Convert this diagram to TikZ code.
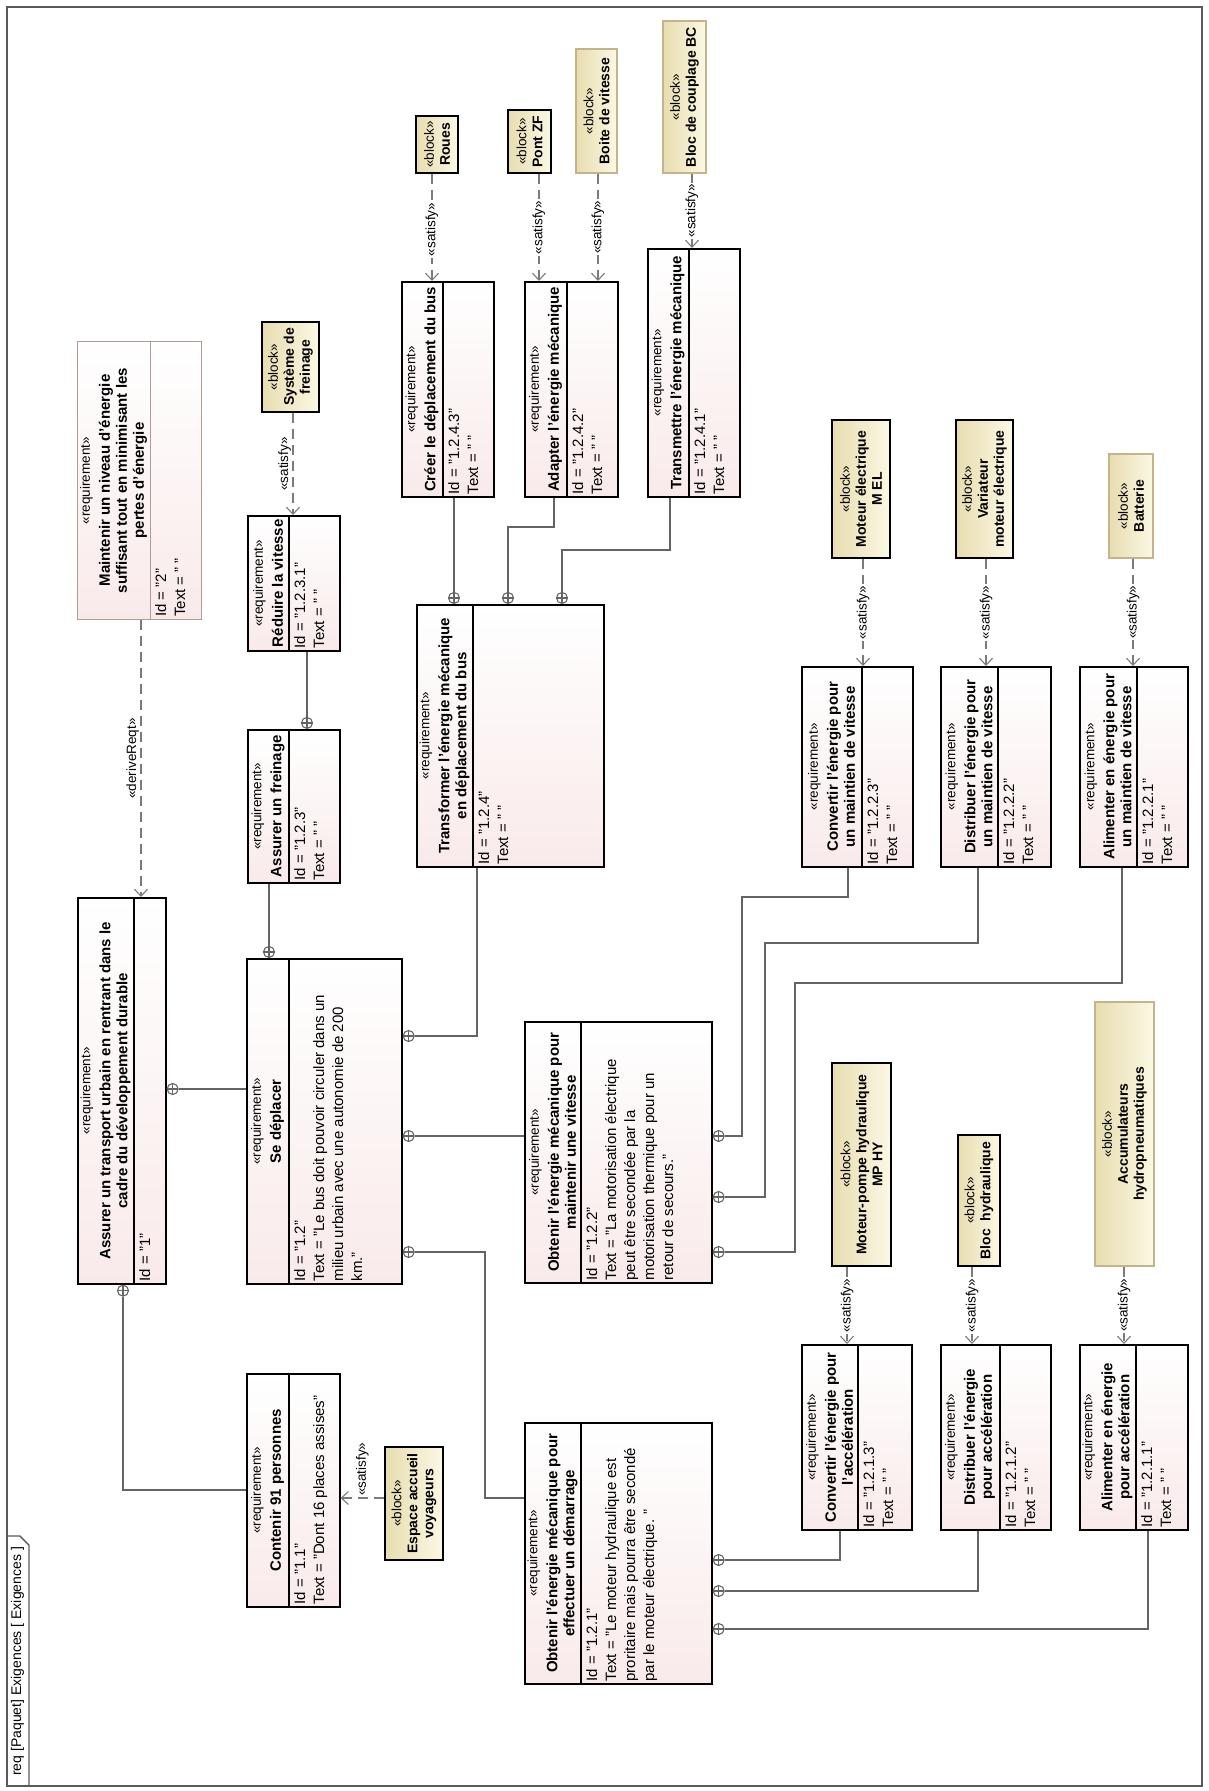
\documentclass[tikz,border=0pt]{standalone}
\usepackage{fontspec}
\setmainfont{Liberation Sans}
\usepackage{xcolor}
\usetikzlibrary{arrows.meta, calc}

\definecolor{reqpink}{RGB}{249,234,234}
\definecolor{blockcream}{RGB}{251,248,228}
\definecolor{blocktan}{RGB}{232,221,176}
\definecolor{tanborder}{RGB}{196,180,140}
\definecolor{greyborder}{RGB}{176,156,146}
\definecolor{linegrey}{RGB}{100,100,100}
\definecolor{framegrey}{RGB}{90,90,90}

\newcommand{\stereofont}{\fontsize{13.5}{15}\selectfont\mdseries}

% requirement box: [extra style]{name}{x}{y}{width}{height}{header width}{title}{body}
\newcommand{\reqnode}[9][]{%
    \node[reqbox, #1, minimum width=#5pt, minimum height=#6pt, anchor=north west] (#2) at (#3,#4) {};
    \draw[reqline, #1] ([xshift=#7pt]#2.north west) -- ([xshift=#7pt]#2.south west);
    \node[reqhead] (#2-h) at ($(#2.west)+(#7/2,0)$) {{\stereofont «requirement»}\\[3pt]#8};
    \node[reqbody] (#2-b) at ([xshift=#7pt]#2.south west) {#9};
}

\begin{document}
\begin{tikzpicture}[
        x=1pt, y=-1pt,
        font=\fontsize{15}{19}\selectfont,
        reqbox/.style={draw=black, line width=1.6pt, top color=white, bottom color=reqpink},
        reqline/.style={draw=black, line width=1.6pt},
        reqhead/.style={rotate=90, align=center, inner sep=1pt, font=\fontsize{15}{17}\selectfont\bfseries},
        reqbody/.style={rotate=90, anchor=north west, align=left, inner xsep=3pt, inner ysep=5pt, font=\fontsize{15}{19}\selectfont},
        blockbox/.style={draw=black, line width=1.6pt, rotate=90, left color=blocktan, right color=blockcream, align=center, inner sep=2pt, font=\fontsize{14}{16}\selectfont\bfseries},
        tanblock/.style={blockbox, draw=tanborder, line width=1.2pt},
        contain/.style={draw=linegrey, line width=1.3pt},
        xhair/.style={circle, draw=linegrey, line width=1.1pt, fill=white, minimum size=11pt, inner sep=0pt,
            path picture={\draw[linegrey, line width=1.1pt] (path picture bounding box.north) -- (path picture bounding box.south) (path picture bounding box.west) -- (path picture bounding box.east);}},
        deparrow/.style={draw=linegrey!85, line width=1.1pt, dash pattern=on 10pt off 6pt, -{Straight Barb[length=7pt, width=13pt]}},
        lbl/.style={rotate=90, inner sep=1.5pt, fill=white, font=\fontsize{13.5}{15}\selectfont},
    ]
    \useasboundingbox (0,0) rectangle (1208,1791);

    % Frame
    \node[draw=framegrey, line width=1.6pt, inner sep=0pt, minimum width=1195pt, minimum height=1779pt, anchor=north west] (frame) at (6,6) {};
    \draw[framegrey, line width=1.4pt] (frame.south west |- 0,1536) -- (20,1536) -- (29,1545) -- (frame.south west -| 29,0);
    \node[rotate=90, anchor=west, inner sep=0pt, font=\fontsize{14}{16}\selectfont] (title) at (17.5,1776) {req [Paquet] Exigences [ Exigences ]};

    % Requirements
    \reqnode[draw=greyborder, line width=1pt]{r2}{77}{341}{124}{278}{73}{Maintenir un niveau d'énergie\\suffisant tout en minimisant les\\pertes d'énergie}{Id = "2"\\Text = " "}
    \reqnode{r1}{77}{897}{88}{386}{57}{Assurer un transport urbain en rentrant dans le\\cadre du développement durable}{Id = "1"}
    \reqnode{r1231}{247}{515}{92}{135}{42}{Réduire la vitesse}{Id = "1.2.3.1"\\Text = " "}
    \reqnode{r123}{247}{729}{92}{153}{42}{Assurer un freinage}{Id = "1.2.3"\\Text = " "}
    \reqnode{r12}{246}{958}{155}{325}{43}{Se déplacer}{Id = "1.2"\\Text = "Le bus doit pouvoir circuler dans un\\milieu urbain avec une autonomie de 200\\km."}
    \reqnode{r11}{246}{1373}{93}{233}{43}{Contenir 91 personnes}{Id = "1.1"\\Text = "Dont 16 places assises"}
    \reqnode{r124}{416}{604}{187}{262}{57}{Transformer l'énergie mécanique\\en déplacement du bus}{Id = "1.2.4"\\Text = " "}
    \reqnode{r1243}{401}{281}{92}{215}{42}{Créer le déplacement du bus}{Id = "1.2.4.3"\\Text = " "}
    \reqnode{r1242}{524}{281}{93}{215}{43}{Adapter l'énergie mécanique}{Id = "1.2.4.2"\\Text = " "}
    \reqnode{r1241}{647}{248}{92}{248}{42}{Transmettre l'énergie mécanique}{Id = "1.2.4.1"\\Text = " "}
    \reqnode{r122}{524}{1021}{187}{261}{57}{Obtenir l'énergie mécanique pour\\maintenir une vitesse}{Id = "1.2.2"\\Text = "La motorisation électrique\\peut être secondée par la\\motorisation thermique pour un\\retour de secours."}
    \reqnode{r121}{524}{1422}{187}{261}{57}{Obtenir l'énergie mécanique pour\\effectuer un démarrage}{Id = "1.2.1"\\Text = "Le moteur hydraulique est\\proritaire mais pourra être secondé\\par le moteur électrique. "}
    \reqnode{r1223}{801}{666}{111}{200}{61}{Convertir l'énergie pour\\un maintien de vitesse}{Id = "1.2.2.3"\\Text = " "}
    \reqnode{r1222}{940}{666}{110}{200}{58}{Distribuer l'énergie pour\\un maintien de vitesse}{Id = "1.2.2.2"\\Text = " "}
    \reqnode{r1221}{1079}{666}{108}{200}{58}{Alimenter en énergie pour\\un maintien de vitesse}{Id = "1.2.2.1"\\Text = " "}
    \reqnode{r1213}{801}{1344}{110}{185}{57}{Convertir l'énergie pour\\l'accélération}{Id = "1.2.1.3"\\Text = " "}
    \reqnode{r1212}{940}{1344}{110}{185}{60}{Distribuer l'énergie\\pour accélération}{Id = "1.2.1.2"\\Text = " "}
    \reqnode{r1211}{1079}{1344}{108}{185}{57}{Alimenter en énergie\\pour accélération}{Id = "1.2.1.1"\\Text = " "}

    % Blocks
    \node[blockbox, minimum width=90pt, minimum height=57pt] (frein) at (290.5,367) {{\stereofont «block»}\\Système de\\freinage};
    \node[blockbox, minimum width=57pt, minimum height=42pt] (roues) at (437,144.5) {{\stereofont «block»}\\Roues};
    \node[blockbox, minimum width=63pt, minimum height=43pt] (pontzf) at (529.5,141.5) {{\stereofont «block»}\\Pont ZF};
    \node[tanblock, minimum width=124pt, minimum height=41pt] (boite) at (596.5,111) {{\stereofont «block»}\\Boite de vitesse};
    \node[tanblock, minimum width=152pt, minimum height=43pt] (couplage) at (684.5,97) {{\stereofont «block»}\\Bloc de couplage BC};
    \node[blockbox, minimum width=113pt, minimum height=58pt] (accueil) at (414,1503.5) {{\stereofont «block»}\\Espace accueil\\voyageurs};
    \node[blockbox, minimum width=138pt, minimum height=58pt] (moteurel) at (861,489) {{\stereofont «block»}\\Moteur électrique\\M EL};
    \node[blockbox, minimum width=138pt, minimum height=57pt] (variateur) at (984.5,489) {{\stereofont «block»}\\Variateur\\moteur électrique};
    \node[tanblock, minimum width=104pt, minimum height=44pt] (batterie) at (1131,506) {{\stereofont «block»}\\Batterie};
    \node[blockbox, minimum width=203pt, minimum height=59pt] (mphy) at (861.5,1164.5) {{\stereofont «block»}\\Moteur-pompe hydraulique\\MP HY};
    \node[blockbox, minimum width=131pt, minimum height=42pt] (blochy) at (979,1200.5) {{\stereofont «block»}\\Bloc\ \ hydraulique};
    \node[tanblock, minimum width=264pt, minimum height=59pt] (accu) at (1124.5,1134) {{\stereofont «block»}\\Accumulateurs\\hydropneumatiques};

    % Containment
    \node[xhair, anchor=north] (c11) at (r1.south -| 123,0) {};
    \draw[contain] (c11.south) |- (r11.west |- 0,1490);
    \node[xhair, anchor=west] (c12) at (r1.east |- 0,1089) {};
    \draw[contain] (c12.east) -- (r12.west |- c12.east);
    \node[xhair, anchor=south] (c123) at (r12.north -| 269,0) {};
    \draw[contain] (c123.north) -- (r123.south -| c123.north);
    \node[xhair, anchor=south] (c1231) at (r123.north -| 307,0) {};
    \draw[contain] (c1231.north) -- (r1231.south -| c1231.north);
    \node[xhair, anchor=west] (c124) at (r12.east |- 0,1036) {};
    \draw[contain] (c124.east) -| (r124.south -| 477,0);
    \node[xhair, anchor=west] (c122) at (r12.east |- 0,1136) {};
    \draw[contain] (c122.east) -- (r122.west |- c122.east);
    \node[xhair, anchor=west] (c121) at (r12.east |- 0,1252) {};
    \draw[contain] (c121.east) -| (485,1498) -- (r121.west |- 0,1498);
    \node[xhair, anchor=south] (c1243) at (r124.north -| 454,0) {};
    \draw[contain] (c1243.north) -- (r1243.south -| c1243.north);
    \node[xhair, anchor=south] (c1242) at (r124.north -| 508,0) {};
    \draw[contain] (c1242.north) |- (554,527) -- (r1242.south -| 554,0);
    \node[xhair, anchor=south] (c1241) at (r124.north -| 562,0) {};
    \draw[contain] (c1241.north) |- (670,550) -- (r1241.south -| 670,0);
    \node[xhair, anchor=west] (c1223) at (r122.east |- 0,1136) {};
    \draw[contain] (c1223.east) -| (742,897) -| (r1223.south -| 848,0);
    \node[xhair, anchor=west] (c1222) at (r122.east |- 0,1197) {};
    \draw[contain] (c1222.east) -| (765,943) -| (r1222.south -| 978,0);
    \node[xhair, anchor=west] (c1221) at (r122.east |- 0,1252) {};
    \draw[contain] (c1221.east) -| (795,983) -| (r1221.south -| 1122,0);
    \node[xhair, anchor=west] (c1213) at (r121.east |- 0,1560) {};
    \draw[contain] (c1213.east) -| (r1213.south -| 840,0);
    \node[xhair, anchor=west] (c1212) at (r121.east |- 0,1591) {};
    \draw[contain] (c1212.east) -| (r1212.south -| 978,0);
    \node[xhair, anchor=west] (c1211) at (r121.east |- 0,1629) {};
    \draw[contain] (c1211.east) -| (r1211.south -| 1148,0);

    % deriveReqt and satisfy
    \draw[deparrow] (r2.south -| 141,0) -- (r1.north -| 141,0) node[lbl, midway, anchor=south, fill=none] (d1) {«deriveReqt»};
    \draw[deparrow] (frein.west -| 293,0) -- (r1231.north -| 293,0) node[lbl, midway, anchor=south, fill=none] (s1) {«satisfy»};
    \draw[deparrow] (roues.west -| 432,0) -- (r1243.north -| 432,0) node[lbl, midway, xshift=-2pt] (s2) {«satisfy»};
    \draw[deparrow] (pontzf.west -| 539,0) -- (r1242.north -| 539,0) node[lbl, midway] (s3) {«satisfy»};
    \draw[deparrow] (boite.west -| 598,0) -- (r1242.north -| 598,0) node[lbl, midway] (s4) {«satisfy»};
    \draw[deparrow] (couplage.west -| 692,0) -- (r1241.north -| 692,0) node[lbl, midway] (s5) {«satisfy»};
    \draw[deparrow] (accueil.north |- 0,1498) -- (r11.east |- 0,1498) node[lbl, midway, anchor=west, fill=none] (s6) {«satisfy»};
    \draw[deparrow] (moteurel.west -| 863,0) -- (r1223.north -| 863,0) node[lbl, midway] (s7) {«satisfy»};
    \draw[deparrow] (variateur.west -| 986,0) -- (r1222.north -| 986,0) node[lbl, midway] (s8) {«satisfy»};
    \draw[deparrow] (batterie.west -| 1133,0) -- (r1221.north -| 1133,0) node[lbl, midway] (s9) {«satisfy»};
    \draw[deparrow] (mphy.west -| 847,0) -- (r1213.north -| 847,0) node[lbl, midway] (s10) {«satisfy»};
    \draw[deparrow] (blochy.west -| 972,0) -- (r1212.north -| 972,0) node[lbl, midway] (s11) {«satisfy»};
    \draw[deparrow] (accu.west -| 1124,0) -- (r1211.north -| 1124,0) node[lbl, midway] (s12) {«satisfy»};

\end{tikzpicture}
\end{document}
